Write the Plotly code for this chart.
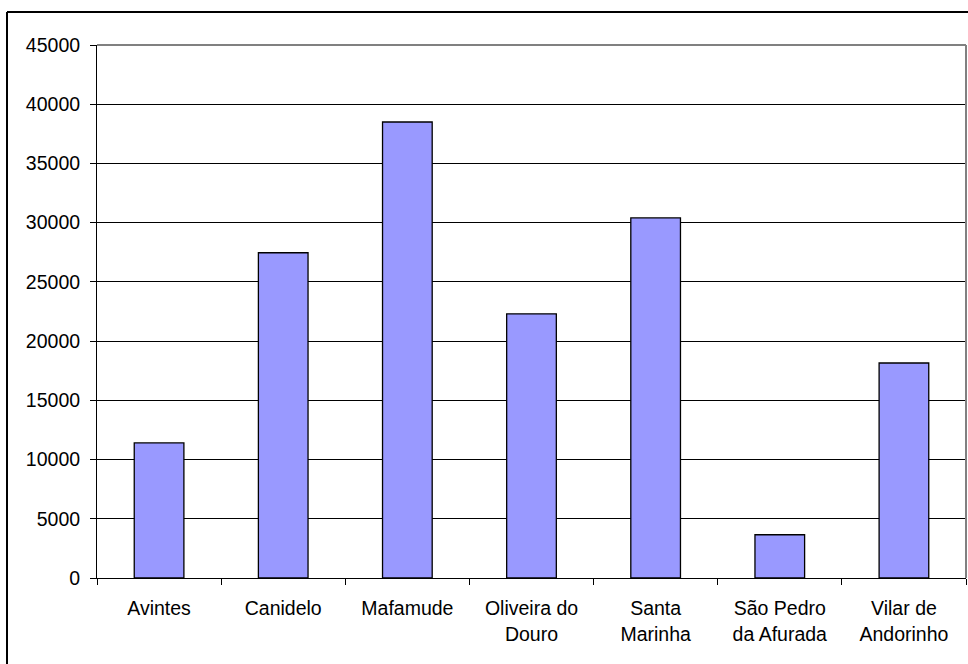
import plotly.graph_objects as go

categories = ["Avintes", "Canidelo", "Mafamude", "Oliveira do<br>Douro", "Santa<br>Marinha",
              "São Pedro<br>da Afurada", "Vilar de<br>Andorinho"]
values = [11400, 27460, 38500, 22300, 30400, 3650, 18150]
y_ticks = list(range(0, 45001, 5000))
y_tick_labels = [str(v) for v in y_ticks]

FONT = "Liberation Sans, Arial, sans-serif"

fig = go.Figure(go.Bar(
    x=categories, y=values, width=0.4,
    marker=dict(color="#9999FF", line=dict(color="black", width=1.3)),
))

W, H = 968, 664
L, R, T, B = 97, 2, 45, 86
pw, ph = W - L - R, H - T - B

def px(x):
    return (x - L) / pw

def py(y):
    return (H - B - y) / ph

fig.update_layout(
    width=W, height=H,
    margin=dict(l=L, r=R, t=T, b=B),
    paper_bgcolor="white", plot_bgcolor="white",
    font=dict(family=FONT, size=19.5, color="black"),
    showlegend=False,
    bargap=0.6,
    xaxis=dict(
        type="category", tickson="boundaries", ticks="outside", ticklen=6,
        tickcolor="black", tickwidth=1, showline=True, linecolor="black", linewidth=1,
        showgrid=False, tickfont=dict(size=19.5), ticklabelstandoff=13,
    ),
    yaxis=dict(
        range=[0, 45000], tickvals=y_ticks, ticktext=y_tick_labels, ticks="outside", ticklen=6,
        tickcolor="black", tickwidth=1, showline=True, linecolor="black", linewidth=1,
        showgrid=True, gridcolor="black", gridwidth=1, zeroline=False,
        tickfont=dict(size=19.5), ticklabelstandoff=6,
    ),
    shapes=[
        # plot-area border (top and right) in gray
        dict(type="line", xref="paper", yref="paper", x0=0, x1=1, y0=1, y1=1,
             line=dict(color="#808080", width=2), layer="above"),
        dict(type="line", xref="paper", yref="paper", x0=1, x1=1, y0=0, y1=1,
             line=dict(color="#808080", width=2), layer="above"),
        # outer chart border
        dict(type="line", xref="paper", yref="paper", x0=px(7), x1=px(980), y0=py(12), y1=py(12),
             line=dict(color="black", width=2), layer="above"),
        dict(type="line", xref="paper", yref="paper", x0=px(7), x1=px(7), y0=py(12), y1=py(680),
             line=dict(color="black", width=2), layer="above"),
    ],
)

fig.write_html("out.html")
